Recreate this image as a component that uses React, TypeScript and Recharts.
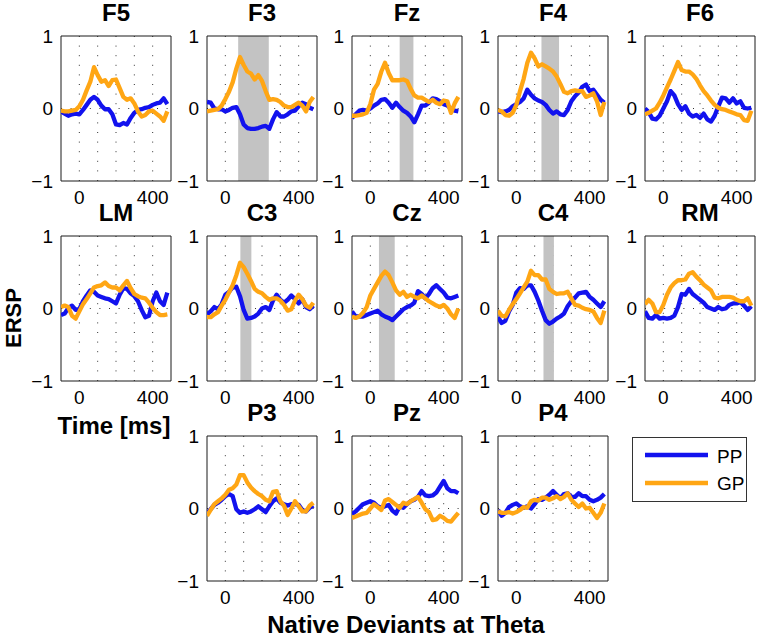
import React from 'react';
import { LineChart, Line, XAxis, YAxis, CartesianGrid, ReferenceArea } from 'recharts';

const TIMES = [-100, -80, -60, -40, -20, 0, 20, 40, 60, 80, 100, 120, 140, 160, 180, 200, 220, 240, 260, 280, 300, 320, 340, 360, 380, 400, 420, 440, 460, 480];
const X_TICKS = [0, 100, 200, 300, 400];
const X_TICK_LABELS = ['0', '', '', '', '400'];
const Y_TICKS = [-1, 0, 1];
const Y_TICK_LABELS = ['\u22121', '0', '1'];
const SERIES_NAMES = ['PP', 'GP'];

const F5_PP = [-0.04, -0.07, -0.10, -0.08, -0.07, -0.08, -0.02, 0.05, 0.12, 0.16, 0.12, 0.04, -0.01, -0.01, -0.08, -0.22, -0.23, -0.20, -0.22, -0.13, -0.06, -0.02, -0.01, 0.01, 0.02, 0.05, 0.07, 0.08, 0.14, 0.06];
const F5_GP = [-0.03, -0.04, -0.04, -0.03, -0.02, 0.03, 0.12, 0.25, 0.37, 0.57, 0.46, 0.37, 0.39, 0.31, 0.39, 0.40, 0.28, 0.16, 0.12, 0.14, 0.07, -0.04, -0.11, -0.09, -0.04, -0.03, -0.07, -0.11, -0.17, -0.04];
const F3_PP = [0.09, 0.08, 0.00, -0.01, -0.01, -0.04, -0.02, 0.01, 0.02, -0.08, -0.22, -0.27, -0.28, -0.28, -0.27, -0.25, -0.24, -0.28, -0.15, -0.05, -0.11, -0.11, -0.08, -0.04, -0.03, 0.03, 0.08, 0.06, 0.01, -0.01];
const F3_GP = [-0.04, -0.03, -0.02, -0.01, 0.04, 0.13, 0.23, 0.36, 0.55, 0.71, 0.60, 0.51, 0.48, 0.40, 0.46, 0.38, 0.24, 0.12, 0.13, 0.12, 0.09, 0.04, 0.02, 0.02, 0.05, 0.08, 0.04, -0.04, 0.09, 0.16];
const FZ_PP = [-0.13, -0.08, -0.03, -0.02, -0.03, 0.00, 0.04, 0.07, 0.12, 0.13, 0.08, 0.01, 0.08, 0.02, -0.03, -0.06, -0.11, -0.19, -0.08, 0.04, 0.04, 0.08, 0.14, 0.13, 0.10, 0.06, 0.04, 0.00, -0.03, -0.04];
const FZ_GP = [-0.10, -0.10, -0.09, -0.08, -0.06, 0.06, 0.26, 0.34, 0.51, 0.63, 0.49, 0.39, 0.39, 0.39, 0.40, 0.38, 0.27, 0.18, 0.15, 0.15, 0.12, 0.09, 0.12, 0.08, 0.06, 0.11, 0.10, -0.06, 0.07, 0.16];
const F4_PP = [-0.04, -0.05, -0.04, -0.02, 0.03, 0.06, 0.09, 0.14, 0.26, 0.19, 0.14, 0.11, 0.09, 0.05, -0.02, -0.07, -0.04, -0.08, -0.09, -0.02, 0.10, 0.17, 0.22, 0.30, 0.33, 0.24, 0.26, 0.19, 0.12, 0.08];
const F4_GP = [-0.02, -0.04, -0.09, -0.10, -0.06, 0.05, 0.24, 0.41, 0.63, 0.77, 0.69, 0.58, 0.61, 0.58, 0.55, 0.51, 0.44, 0.34, 0.23, 0.21, 0.24, 0.25, 0.24, 0.24, 0.16, 0.18, 0.21, 0.10, -0.09, 0.09];
const F6_PP = [0.00, -0.05, -0.14, -0.15, -0.10, 0.00, 0.10, 0.24, 0.18, 0.06, -0.02, 0.03, -0.07, -0.11, -0.09, -0.13, -0.07, -0.15, -0.18, -0.10, 0.03, 0.15, 0.14, 0.08, 0.14, 0.07, 0.10, 0.01, 0.00, 0.01];
const F6_GP = [-0.08, -0.06, -0.03, 0.00, 0.08, 0.18, 0.29, 0.40, 0.52, 0.64, 0.53, 0.51, 0.51, 0.47, 0.41, 0.32, 0.24, 0.18, 0.11, 0.05, 0.01, -0.01, -0.02, -0.04, -0.06, -0.08, -0.09, -0.16, -0.17, -0.03];
const LM_PP = [-0.09, -0.07, 0.01, 0.04, -0.02, -0.01, 0.10, 0.18, 0.25, 0.23, 0.18, 0.16, 0.14, 0.13, 0.10, 0.07, 0.19, 0.28, 0.27, 0.21, 0.17, 0.10, -0.02, -0.12, -0.10, 0.10, 0.22, 0.10, 0.05, 0.22];
const LM_GP = [0.02, 0.04, 0.02, -0.10, -0.14, -0.04, 0.06, 0.13, 0.21, 0.29, 0.31, 0.32, 0.36, 0.31, 0.29, 0.29, 0.25, 0.32, 0.38, 0.28, 0.20, 0.17, 0.15, 0.14, 0.08, 0.01, -0.05, -0.09, -0.09, -0.08];
const C3_PP = [-0.08, -0.04, 0.02, -0.01, 0.06, 0.19, 0.23, 0.29, 0.30, 0.17, -0.02, -0.14, -0.13, -0.11, -0.07, 0.00, 0.02, -0.02, 0.11, 0.19, 0.12, 0.08, 0.12, 0.18, 0.13, 0.07, 0.13, 0.02, -0.01, 0.04];
const C3_GP = [-0.12, -0.12, -0.08, -0.05, 0.04, 0.12, 0.22, 0.32, 0.46, 0.63, 0.57, 0.48, 0.38, 0.27, 0.23, 0.21, 0.16, 0.12, 0.14, 0.14, 0.11, 0.05, -0.03, -0.01, 0.11, 0.19, 0.13, 0.04, 0.01, 0.08];
const CZ_PP = [-0.04, -0.11, -0.11, -0.11, -0.09, -0.07, -0.05, -0.03, -0.08, -0.11, -0.13, -0.16, -0.11, -0.06, -0.01, 0.02, 0.04, 0.08, 0.24, 0.20, 0.14, 0.20, 0.28, 0.32, 0.27, 0.22, 0.15, 0.14, 0.16, 0.18];
const CZ_GP = [-0.11, -0.13, -0.11, -0.06, 0.02, 0.18, 0.27, 0.36, 0.45, 0.51, 0.46, 0.36, 0.25, 0.19, 0.23, 0.16, 0.19, 0.16, 0.14, 0.18, 0.14, 0.10, 0.07, 0.04, 0.02, 0.05, 0.00, -0.08, -0.13, 0.00];
const C4_PP = [-0.12, -0.20, -0.17, -0.04, 0.05, 0.22, 0.28, 0.27, 0.32, 0.32, 0.23, 0.11, -0.03, -0.16, -0.21, -0.18, -0.14, -0.11, -0.07, 0.03, 0.10, 0.15, 0.21, 0.22, 0.23, 0.16, 0.12, 0.07, 0.02, 0.10];
const C4_GP = [-0.03, -0.10, -0.11, -0.02, 0.06, 0.13, 0.21, 0.29, 0.37, 0.52, 0.46, 0.46, 0.40, 0.40, 0.27, 0.23, 0.20, 0.21, 0.21, 0.23, 0.14, 0.05, 0.04, 0.01, -0.01, -0.02, -0.04, -0.13, -0.20, -0.03];
const RM_PP = [-0.04, -0.13, -0.14, -0.09, -0.14, -0.13, -0.14, -0.13, -0.10, 0.02, 0.20, 0.19, 0.27, 0.20, 0.16, 0.12, 0.08, 0.02, 0.00, -0.02, 0.02, -0.01, 0.00, 0.05, 0.07, 0.07, 0.09, 0.04, -0.02, 0.03];
const RM_GP = [0.06, 0.12, 0.07, -0.05, -0.05, 0.05, 0.19, 0.29, 0.35, 0.39, 0.39, 0.40, 0.48, 0.50, 0.44, 0.39, 0.33, 0.29, 0.25, 0.15, 0.14, 0.16, 0.16, 0.16, 0.15, 0.12, 0.10, 0.10, 0.14, 0.04];
const P3_PP = [-0.07, -0.01, 0.05, 0.08, 0.12, 0.17, 0.20, 0.17, -0.01, -0.06, -0.04, -0.06, -0.04, -0.01, 0.03, -0.01, -0.05, 0.03, 0.10, 0.14, 0.08, 0.06, 0.04, 0.06, 0.06, 0.05, -0.02, -0.04, 0.01, 0.04];
const P3_GP = [-0.10, -0.02, 0.06, 0.10, 0.14, 0.19, 0.26, 0.28, 0.33, 0.46, 0.46, 0.36, 0.29, 0.24, 0.20, 0.17, 0.12, 0.10, 0.23, 0.24, 0.10, 0.04, -0.09, 0.00, 0.10, 0.03, -0.04, -0.04, 0.04, 0.08];
const PZ_PP = [-0.08, -0.04, 0.01, 0.06, 0.08, 0.10, 0.08, 0.03, 0.01, 0.03, 0.05, -0.03, -0.07, 0.03, 0.01, 0.06, 0.10, 0.12, 0.16, 0.24, 0.18, 0.17, 0.18, 0.22, 0.30, 0.38, 0.28, 0.24, 0.24, 0.21];
const PZ_GP = [-0.13, -0.11, -0.09, -0.07, -0.06, 0.00, 0.06, 0.02, -0.02, 0.11, 0.13, 0.09, 0.05, 0.01, 0.08, 0.06, 0.10, 0.13, 0.16, 0.08, -0.01, -0.05, -0.16, -0.15, -0.10, -0.13, -0.17, -0.18, -0.12, -0.06];
const P4_PP = [-0.02, -0.10, -0.06, 0.02, 0.05, 0.07, 0.03, 0.01, 0.03, 0.00, 0.06, 0.13, 0.12, 0.15, 0.19, 0.24, 0.19, 0.14, 0.20, 0.21, 0.16, 0.16, 0.21, 0.17, 0.17, 0.12, 0.10, 0.12, 0.15, 0.20];
const P4_GP = [-0.04, -0.06, -0.06, -0.05, -0.07, -0.05, -0.02, 0.02, 0.01, 0.10, 0.12, 0.11, 0.15, 0.15, 0.12, 0.14, 0.17, 0.13, 0.16, 0.21, 0.12, 0.07, 0.02, 0.07, 0.00, 0.01, -0.06, -0.13, -0.06, 0.07];

const F3_BAND = [70, 237];
const FZ_BAND = [160, 235];
const F4_BAND = [137, 233];
const C3_BAND = [82, 142];
const CZ_BAND = [47, 133];
const C4_BAND = [148, 205];

const PANELS = [
  { title: 'F5', pp: F5_PP, gp: F5_GP, band: null, col: 0, row: 0 },
  { title: 'F3', pp: F3_PP, gp: F3_GP, band: F3_BAND, col: 1, row: 0 },
  { title: 'Fz', pp: FZ_PP, gp: FZ_GP, band: FZ_BAND, col: 2, row: 0 },
  { title: 'F4', pp: F4_PP, gp: F4_GP, band: F4_BAND, col: 3, row: 0 },
  { title: 'F6', pp: F6_PP, gp: F6_GP, band: null, col: 4, row: 0 },
  { title: 'LM', pp: LM_PP, gp: LM_GP, band: null, col: 0, row: 1 },
  { title: 'C3', pp: C3_PP, gp: C3_GP, band: C3_BAND, col: 1, row: 1 },
  { title: 'Cz', pp: CZ_PP, gp: CZ_GP, band: CZ_BAND, col: 2, row: 1 },
  { title: 'C4', pp: C4_PP, gp: C4_GP, band: C4_BAND, col: 3, row: 1 },
  { title: 'RM', pp: RM_PP, gp: RM_GP, band: null, col: 4, row: 1 },
  { title: 'P3', pp: P3_PP, gp: P3_GP, band: null, col: 1, row: 2 },
  { title: 'Pz', pp: PZ_PP, gp: PZ_GP, band: null, col: 2, row: 2 },
  { title: 'P4', pp: P4_PP, gp: P4_GP, band: null, col: 3, row: 2 },
];

const COL_X = [61, 207, 352, 498, 645];
const ROW_Y = [36, 236, 436];
const PW = 110;
const PH = 145;
const FONT = '"Liberation Sans", Arial, Helvetica, sans-serif';
const BLUE = '#1212ee';
const ORANGE = '#ffa614';

function Panel({ p }: { p: any }) {
  const data = TIMES.map((t, i) => ({ t, pp: p.pp[i], gp: p.gp[i] }));
  const L = COL_X[p.col];
  const T = ROW_Y[p.row];
  return (
    <div style={{ position: 'absolute', left: L - 40, top: T - 10 }}>
      <LineChart width={40 + PW + 10} height={10 + PH + 35} data={data} margin={{ top: 10, right: 10, bottom: 0, left: 0 }}>
        <CartesianGrid stroke="#333" strokeDasharray="1 8.6" horizontalValues={[0]} verticalValues={X_TICKS} />
        {p.band && (
          <ReferenceArea x1={p.band[0]} x2={p.band[1]} fill="#c3c3c3" fillOpacity={1} stroke="none" />
        )}
        <XAxis
          dataKey="t"
          type="number"
          domain={[-100, 500]}
          ticks={X_TICKS}
          interval={0}
          tickFormatter={(v: number) => X_TICK_LABELS[X_TICKS.indexOf(v)] ?? ''}
          height={35}
          tickSize={0}
          tickMargin={10}
          axisLine={false}
          tickLine={false}
          tick={{ fill: '#000', fontSize: 19, fontFamily: FONT }}
          allowDataOverflow
        />
        <YAxis
          type="number"
          domain={[-1, 1]}
          ticks={Y_TICKS}
          interval={0}
          tickFormatter={(v: number) => Y_TICK_LABELS[Y_TICKS.indexOf(v)] ?? ''}
          width={40}
          tickSize={0}
          tickMargin={8}
          axisLine={false}
          tickLine={false}
          tick={{ fill: '#000', fontSize: 19, fontFamily: FONT }}
          allowDataOverflow
        />
        <Line dataKey="pp" name={SERIES_NAMES[0]} stroke={BLUE} strokeWidth={4.3} dot={false} type="linear" strokeLinejoin="round" isAnimationActive={false} />
        <Line dataKey="gp" name={SERIES_NAMES[1]} stroke={ORANGE} strokeWidth={4.3} dot={false} type="linear" strokeLinejoin="round" isAnimationActive={false} />
        <ReferenceArea x1={-100} x2={500} y1={-1} y2={1} fill="none" stroke="#1a1a1a" strokeWidth={1} />
      </LineChart>
    </div>
  );
}

export default function App() {
  return (
    <div style={{ position: 'fixed', left: 0, top: 0, width: 769, height: 640, background: '#fff', overflow: 'hidden' }}>
      {PANELS.map((p) => (
        <Panel key={p.title} p={p} />
      ))}
      <svg width={769} height={640} style={{ position: 'absolute', left: 0, top: 0, pointerEvents: 'none' }}>
        {PANELS.map((p) => (
          <text
            key={p.title}
            x={COL_X[p.col] + PW / 2}
            y={ROW_Y[p.row] - 15}
            textAnchor="middle"
            fontFamily={FONT}
            fontWeight="bold"
            fontSize={24}
            fill="#000"
          >
            {p.title}
          </text>
        ))}
        <text x={21} y={318} transform="rotate(-90 21 318)" textAnchor="middle" fontFamily={FONT} fontWeight="bold" fontSize={22} fill="#000">
          ERSP
        </text>
        <text x={114} y={434} textAnchor="middle" fontFamily={FONT} fontWeight="bold" fontSize={24} fill="#000">
          Time [ms]
        </text>
        <text x={406} y={633} textAnchor="middle" fontFamily={FONT} fontWeight="bold" fontSize={24} fill="#000">
          Native Deviants at Theta
        </text>
        <rect x={632.5} y={437.5} width={114} height={64} fill="#fff" stroke="#333" strokeWidth={1} />
        <line x1={645} x2={708} y1={455} y2={455} stroke={BLUE} strokeWidth={4.3} />
        <text x={717} y={463} fontFamily={FONT} fontSize={19} fill="#000">{SERIES_NAMES[0]}</text>
        <line x1={645} x2={708} y1={483} y2={483} stroke={ORANGE} strokeWidth={4.3} />
        <text x={717} y={490} fontFamily={FONT} fontSize={19} fill="#000">{SERIES_NAMES[1]}</text>
      </svg>
    </div>
  );
}
